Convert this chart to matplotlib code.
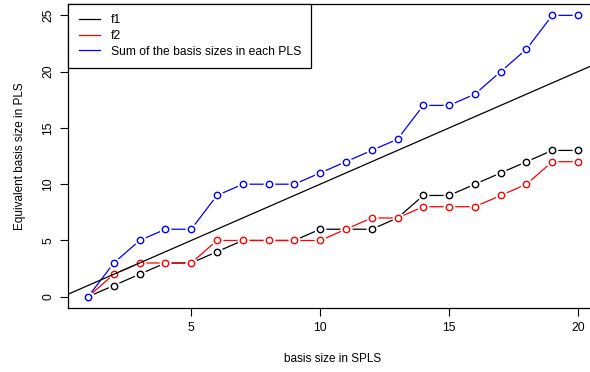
import numpy as np
import matplotlib
matplotlib.use("Agg")
import matplotlib.pyplot as plt

# basis size in SPLS vs equivalent basis size in PLS
splsSize = np.arange(1, 21)
f1 = [0, 1, 2, 3, 3, 4, 5, 5, 5, 6, 6, 6, 7, 9, 9, 10, 11, 12, 13, 13]
f2 = [0, 2, 3, 3, 3, 5, 5, 5, 5, 5, 6, 7, 7, 8, 8, 8, 9, 10, 12, 12]
total = [0, 3, 5, 6, 6, 9, 10, 10, 10, 11, 12, 13, 14, 17, 17, 18, 20, 22, 25, 25]
labels = ["f1", "f2", "Sum of the basis sizes in each PLS"]
colors = ["black", "red", "blue"]

plt.rcParams['font.family'] = ['Liberation Sans', 'DejaVu Sans']

fig = plt.figure(figsize=(5.9, 3.72), dpi=100)
ax = fig.add_axes([0.116, 0.172, 0.897, 0.817])

# R style type="b": lines broken around open circles
for ys, c, lab in zip([f1, f2, total], colors, labels):
    ax.plot(splsSize, ys, color=c, linewidth=0.9, label=lab)
    ax.plot(splsSize, ys, linestyle='none', marker='o', markersize=7.5,
            markerfacecolor='white', markeredgecolor='white')
    ax.plot(splsSize, ys, linestyle='none', marker='o', markersize=4.6,
            markerfacecolor='none', markeredgecolor=c, markeredgewidth=1.0)

# reference line y = x
ax.axline((0, 0), slope=1, color='black', linewidth=0.9)

ax.set_xlim(0.24, 20.76)
ax.set_ylim(-1, 26)
ax.set_xticks([5, 10, 15, 20])
ax.set_yticks([0, 5, 10, 15, 20, 25])
ax.tick_params(direction='out', length=6, width=0.8, labelsize=8.7, pad=4)
for lbl in ax.get_yticklabels():
    lbl.set_rotation(90)
    lbl.set_va('center')
for s in ax.spines.values():
    s.set_linewidth(0.9)

ax.set_xlabel("basis size in SPLS", fontsize=8.5, labelpad=14)
ax.set_ylabel("Equivalent basis size in PLS", fontsize=8.5, labelpad=12)

leg = ax.legend(loc='upper left', bbox_to_anchor=(0, 1), fontsize=8.7,
                fancybox=False, edgecolor='black', framealpha=1,
                borderaxespad=0, handlelength=1.75, handletextpad=0.9,
                labelspacing=0.3, borderpad=0.85)
leg.get_frame().set_linewidth(0.9)

plt.savefig("out.png", dpi=100)
